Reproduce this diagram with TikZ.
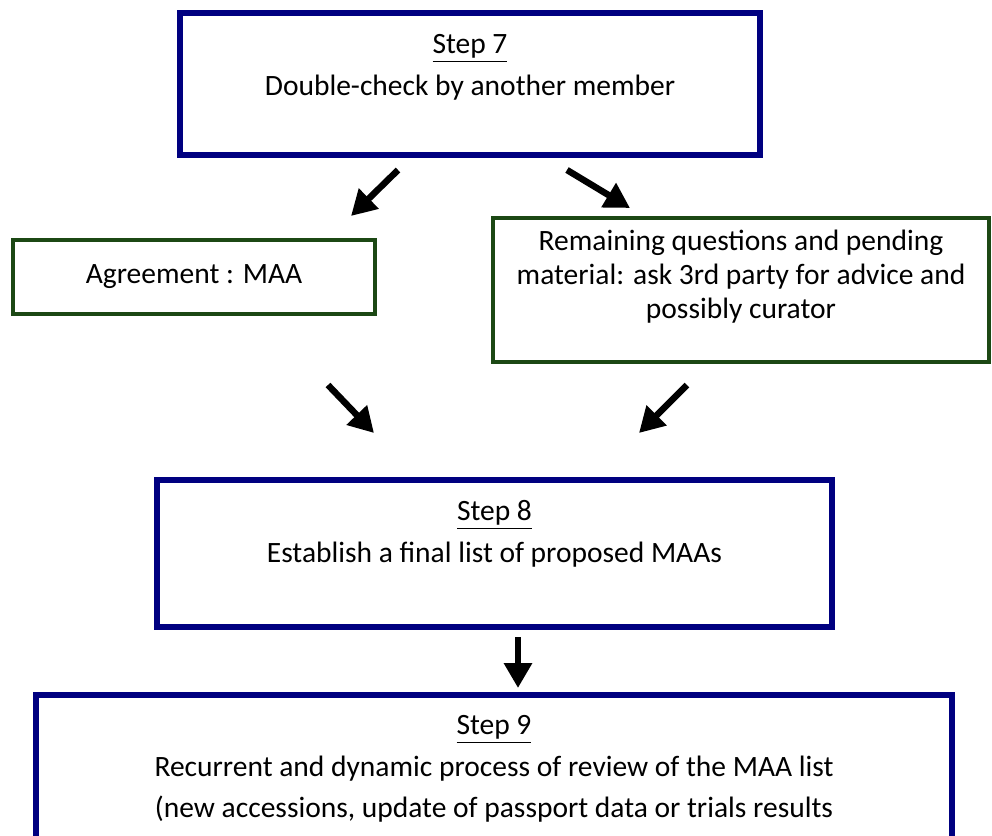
\documentclass[tikz,border=0pt]{standalone}
\usepackage{fontspec}
\setmainfont{Carlito}
\usepackage[svgnames]{xcolor}
\usetikzlibrary{arrows.meta,positioning}
\definecolor{boxgreen}{RGB}{28,72,20}

\tikzset{
	bluebox/.style={draw=Navy,line width=2.75pt,inner sep=0pt},
	greenbox/.style={draw=boxgreen,line width=2pt,inner sep=0pt,
		font=\fontsize{14.75}{17}\selectfont,align=center},
	steptext/.style={inner sep=0pt,align=center,font=\fontsize{14.75}{20.75}\selectfont},
	fatarrow/.style={line width=3.25pt,-{Triangle[length=12.5pt,width=13.5pt]}}
}

\begin{document}
\begin{tikzpicture}[x=0.5pt,y=-0.5pt]
	\useasboundingbox (0,0) rectangle (992,836);
	% boxes
	\node[bluebox,minimum width=290pt,minimum height=71pt] (step7) at (470,84) {};
	\node[steptext,below=12pt of step7.north] (step7txt) {\underline{Step 7}\\Double-check by another member};
	\node[greenbox,minimum width=181pt,minimum height=37pt] (agree) at (194,277) {Agreement : MAA};
	\node[greenbox,minimum width=248pt,minimum height=72pt] (remain) at (741,290) {};
	\node[greenbox,draw=none,below=6pt of remain.north] (remaintxt) {Remaining questions and pending\\material: ask 3rd party for advice and\\possibly curator};
	\node[bluebox,minimum width=337.5pt,minimum height=73.5pt] (step8) at (494.5,553.5) {};
	\node[steptext,below=11.5pt of step8.north] (step8txt) {\underline{Step 8}\\Establish a final list of proposed MAAs};
	\node[bluebox,minimum width=458pt,minimum height=92.5pt] (step9) at (494,787.5) {};
	\node[steptext,below=11.5pt of step9.north] (step9txt) {\underline{Step 9}\\Recurrent and dynamic process of review of the MAA list\\(new accessions, update of passport data or trials results};
	% arrows
	\coordinate (a1s) at (398,170); \coordinate (a1e) at (351,216);
	\coordinate (a2s) at (567,170); \coordinate (a2e) at (630,208);
	\coordinate (a3s) at (328,385); \coordinate (a3e) at (374,433);
	\coordinate (a4s) at (687,385); \coordinate (a4e) at (639,433);
	\coordinate (a5s) at (518,637); \coordinate (a5e) at (518,688);
	\draw[fatarrow] (a1s)--(a1e);
	\draw[fatarrow] (a2s)--(a2e);
	\draw[fatarrow] (a3s)--(a3e);
	\draw[fatarrow] (a4s)--(a4e);
	\draw[fatarrow] (a5s)--(a5e);
\end{tikzpicture}
\end{document}
